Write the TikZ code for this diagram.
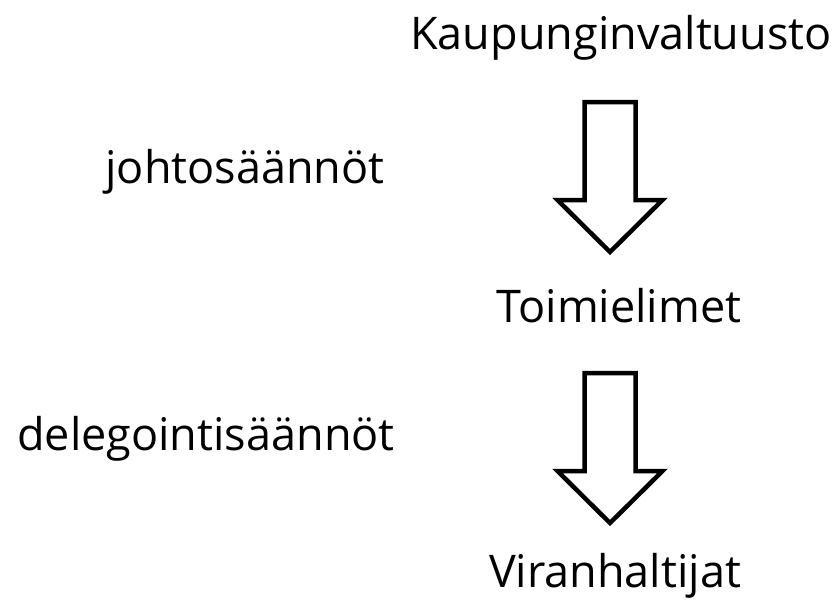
\documentclass[tikz,border=0pt]{standalone}
\usepackage{fontspec}
\setmainfont{Open Sans}
\tikzset{
  label text/.style={inner sep=0pt, anchor=base, font=\fontsize{45}{53}\selectfont},
  blockarrow/.style={draw=black, line width=4.5pt, fill=white, line join=miter}
}
\begin{document}
\begin{tikzpicture}[x=1pt,y=-1pt]
\useasboundingbox (0,0) rectangle (835,610);
% levels
\node[label text] (valtuusto) at (621,49) {Kaupunginvaltuusto};
\node[label text] (toimielimet) at (619,322) {Toimielimet};
\node[label text] (viranhaltijat) at (615,587) {Viranhaltijat};
% rules
\node[label text] (johto) at (245,183) {johtosäännöt};
\node[label text] (delegointi) at (206,450) {delegointisäännöt};
% arrows
\coordinate (a1) at (610,102);
\coordinate (a2) at (610,373);
\foreach \a in {a1,a2}
  \draw[blockarrow] (\a) ++(-25.5,0) -- ++(0,98) -- ++(-27,0) -- ++(52.5,52)
    -- ++(52.5,-52) -- ++(-27,0) -- ++(0,-98) -- cycle;
\end{tikzpicture}
\end{document}
